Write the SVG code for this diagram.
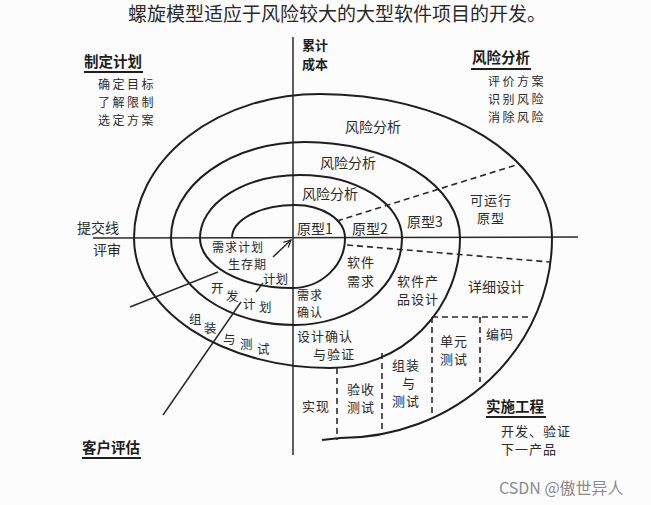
<svg xmlns="http://www.w3.org/2000/svg" width="651" height="505" viewBox="0 0 651 505">
<defs>
<style>
.t{font-family:"Noto Sans CJK SC","Liberation Sans",sans-serif;fill:#2a2a2a;font-size:14px}
.s{font-size:12.5px}
.x{font-size:12px;letter-spacing:1px}
.m{font-size:13px;letter-spacing:1px}
.l{font-size:12px;letter-spacing:2.5px}
.h{font-weight:bold;font-size:14.5px;fill:#1e1e1e}
.c{fill:none;stroke:#1e1e1e;stroke-width:2}
.ax{fill:none;stroke:#2a2a2a;stroke-width:1.5}
.d{fill:none;stroke:#2a2a2a;stroke-width:1.6;stroke-dasharray:6 4}
.u{stroke:#1e1e1e;stroke-width:2}
</style>
<marker id="ah" viewBox="0 0 10 10" refX="9" refY="5" markerWidth="9" markerHeight="9" orient="auto" markerUnits="userSpaceOnUse">
<path d="M1,1 L9,5 L1,9" fill="none" stroke="#2a2a2a" stroke-width="1.4"/>
</marker>
</defs>
<rect width="651" height="505" fill="#fcfcfc"/>
<g id="connectors">
<line class="ax" x1="293" y1="37" x2="293" y2="455"/>
<line class="ax" x1="93" y1="238" x2="578" y2="237"/>
<path class="c" d="M232,238 A63,33 0 0 1 295,205 A50,33 0 0 1 345,238 A53,50 0 0 1 292,288 A92,50 0 0 1 200,238 A100,63 0 0 1 300,175 A102,63 0 0 1 402,238 A107,87 0 0 1 295,325 A124,87 0 0 1 171,238 A134,96 0 0 1 305,142 A155,96 0 0 1 460,238 A130,130 0 0 1 330,368 A196,130 0 0 1 134,238 A186,144 0 0 1 320,94 A232,144 0 0 1 552,238 A212,200 0 0 1 340,438 L322,440"/>
<line class="d" x1="337" y1="221" x2="519" y2="164"/>
<line class="d" x1="347" y1="245" x2="550" y2="262"/>
<line class="d" x1="432" y1="317" x2="528" y2="317"/>
<line class="d" x1="432" y1="317" x2="432" y2="413"/>
<line class="d" x1="480" y1="317" x2="480" y2="382"/>
<line class="d" x1="382" y1="353" x2="382" y2="432"/>
<line class="d" x1="337" y1="368" x2="337" y2="440"/>
<line class="ax" x1="163" y1="415" x2="241" y2="302"/>
<line class="ax" x1="256" y1="292" x2="263" y2="283"/>
<line class="ax" x1="273" y1="257" x2="291" y2="240" marker-end="url(#ah)"/>
<line class="ax" x1="130" y1="307" x2="218" y2="272"/>
<line class="u" x1="84" y1="72" x2="143" y2="72"/>
<line class="u" x1="471" y1="69" x2="531" y2="69"/>
<line class="u" x1="82" y1="458" x2="141" y2="458"/>
<line class="u" x1="486" y1="417" x2="546" y2="417"/>
</g>
<g id="title"><text class="t" x="337" y="21" text-anchor="middle" style="font-size:19px">螺旋模型适应于风险较大的大型软件项目的开发。</text></g>
<g id="axis-label"><text class="t h" x="302" y="50" style="font-size:13px">累计</text><text class="t h" x="302" y="69" style="font-size:13px">成本</text></g>
<g id="plan">
<text class="t h" x="84" y="67">制定计划</text>
<text class="t l" x="98" y="89">确定目标</text>
<text class="t l" x="98" y="107">了解限制</text>
<text class="t l" x="98" y="125">选定方案</text>
</g>
<g id="risk">
<text class="t h" x="472" y="63">风险分析</text>
<text class="t l" x="488" y="86">评价方案</text>
<text class="t l" x="488" y="104">识别风险</text>
<text class="t l" x="488" y="122">消除风险</text>
</g>
<g id="review">
<text class="t" x="77" y="233">提交线</text>
<text class="t" x="93" y="255">评审</text>
</g>
<g id="customer"><text class="t h" x="82" y="453">客户评估</text></g>
<g id="engineering">
<text class="t m" x="501" y="436">开发、验证</text>
<text class="t h" x="486" y="412">实施工程</text>
<text class="t m" x="501" y="454">下一产品</text>
</g>
<g id="risk-rings">
<text class="t" x="345" y="132">风险分析</text>
<text class="t" x="320" y="168">风险分析</text>
<text class="t" x="302" y="199">风险分析</text>
</g>
<g id="prototypes">
<text class="t" x="297" y="234">原型1</text>
<text class="t" x="352" y="234">原型2</text>
<text class="t" x="407" y="227">原型3</text>
<text class="t m" x="470" y="205">可运行</text>
<text class="t m" x="477" y="223">原型</text>
</g>
<g id="phases">
<text class="t m" x="347" y="267">软件</text>
<text class="t m" x="347" y="286">需求</text>
<text class="t m" x="397" y="286">软件产</text>
<text class="t m" x="397" y="304">品设计</text>
<text class="t" x="468" y="292">详细设计</text>
<text class="t x" x="297" y="300">需求</text>
<text class="t x" x="297" y="317">确认</text>
<text class="t m" x="297" y="341">设计确认</text>
<text class="t m" x="313" y="359">与验证</text>
<text class="t m" x="302" y="411">实现</text>
<text class="t m" x="347" y="394">验收</text>
<text class="t m" x="347" y="412">测试</text>
<text class="t m" x="392" y="370">组装</text>
<text class="t m" x="402" y="388">与</text>
<text class="t m" x="392" y="406">测试</text>
<text class="t m" x="440" y="346">单元</text>
<text class="t m" x="440" y="364">测试</text>
<text class="t m" x="486" y="339">编码</text>
</g>
<g id="plans">
<text class="t x" x="212" y="252">需求计划</text>
<text class="t x" x="228" y="269">生存期</text>
<text class="t s" x="263" y="284">计划</text>
<text class="t s" x="211" y="293">开</text>
<text class="t s" x="226" y="301">发</text>
<text class="t s" x="243" y="309">计</text>
<text class="t s" x="259" y="312">划</text>
<text class="t s" x="189" y="324">组</text>
<text class="t s" x="204" y="333">装</text>
<text class="t s" x="223" y="344">与</text>
<text class="t s" x="240" y="349">测</text>
<text class="t s" x="257" y="354">试</text>
</g>
<g id="watermark"><text x="499" y="494" style="font-family:'Noto Sans CJK SC','Liberation Sans',sans-serif;font-size:16px;fill:#8a8a8a">CSDN @傲世异人</text></g>
</svg>
